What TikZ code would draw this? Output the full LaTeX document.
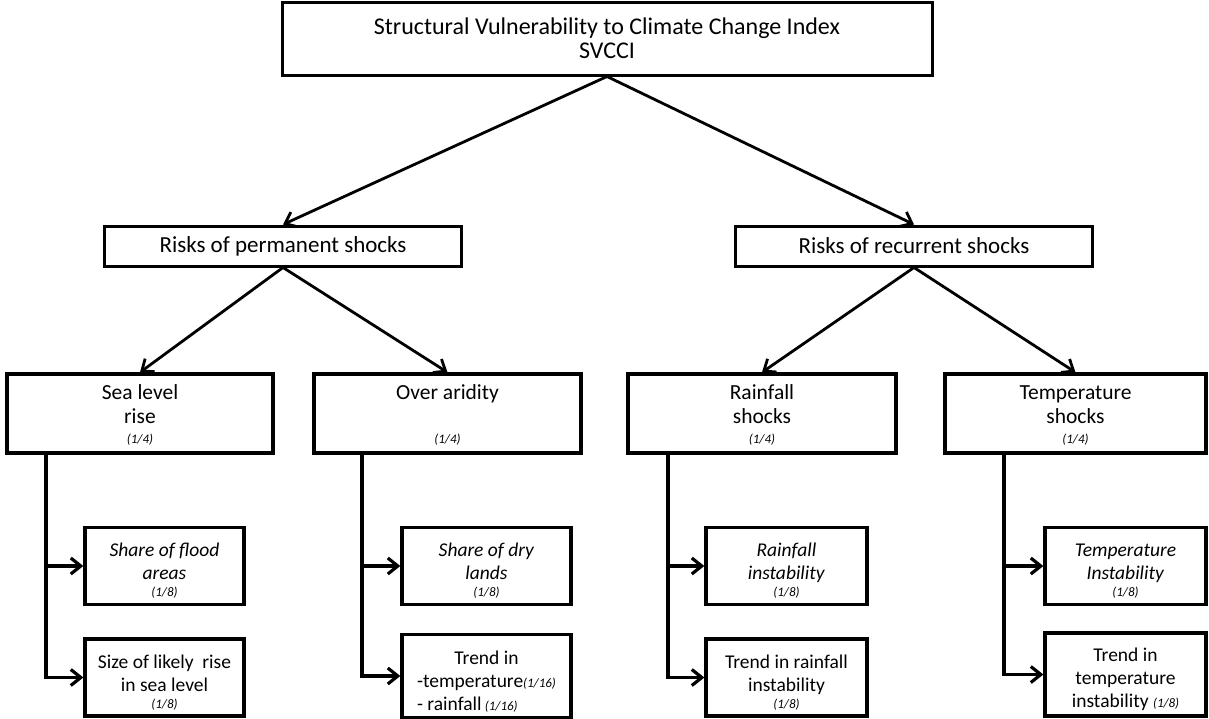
\documentclass[tikz,border=0pt]{standalone}
\usepackage{fontspec}
\setmainfont{Carlito}
\usetikzlibrary{arrows.meta}

\newcommand{\wgt}[1]{{\fontsize{13}{14}\selectfont\itshape(#1)}}
\newcommand{\topgap}[1]{\rule{0pt}{#1}}

\begin{document}
\begin{tikzpicture}[x=1pt,y=-1pt,
  every node/.style={align=center,inner sep=0pt},
  topbox/.style={draw,line width=3pt,minimum width=650pt,minimum height=73pt,font=\fontsize{24}{24}\selectfont},
  riskbox/.style={draw,line width=3pt,minimum width=357pt,minimum height=40pt,font=\fontsize{23}{24}\selectfont},
  shockbox/.style={draw,line width=3.3pt,minimum height=79pt,font=\fontsize{21.5}{24}\selectfont},
  leafbox/.style={draw,line width=3.3pt,minimum height=77pt,font=\fontsize{19.5}{23}\selectfont},
  linkarr/.style={line width=2.8pt,-{Straight Barb[length=10pt,width=16pt]}},
  brancharr/.style={line width=3.2pt,-{Straight Barb[length=10pt,width=16pt]}}]
  \useasboundingbox (0,0) rectangle (1209,718);

  \node[topbox] (svcci) at (607,38.5) {Structural Vulnerability to Climate Change Index\\SVCCI};

  \node[riskbox] (perm) at (283,246) {Risks of permanent shocks};
  \node[riskbox] (recur) at (914,246) {Risks of recurrent shocks};

  \node[shockbox,minimum width=266pt] (sea) at (140,413.5) {\topgap{17pt}Sea level\\rise\\[-4pt]\wgt{1/4}};
  \node[shockbox,minimum width=267pt] (arid) at (447.5,413.5) {\topgap{17pt}Over aridity\\\strut\\[-4pt]\wgt{1/4}};
  \node[shockbox,minimum width=268pt] (rain) at (762,413.5) {\topgap{17pt}Rainfall\\shocks\\[-4pt]\wgt{1/4}};
  \node[shockbox,minimum width=261pt] (temp) at (1075.5,413.5) {\topgap{17pt}Temperature\\shocks\\[-4pt]\wgt{1/4}};

  \node[leafbox,minimum width=159pt] (flood) at (164.5,566) {\topgap{23pt}\textit{Share of flood}\\\textit{areas}\\[-6pt]\wgt{1/8}};
  \node[leafbox,minimum width=159pt] (sealevel) at (164.5,677.5) {\topgap{23pt}Size of likely\ \ rise\\in sea level\\[-6pt]\wgt{1/8}};
  \node[leafbox,minimum width=169pt] (dry) at (486.5,566) {\topgap{23pt}\textit{Share of dry}\\\textit{lands}\\[-6pt]\wgt{1/8}};
  \node[leafbox,minimum width=169pt,minimum height=80pt] (aridtrend) at (486.5,676)
    {\begin{tabular}{@{}l@{}}\multicolumn{1}{@{}c@{}}{\topgap{30pt}Trend in}\\-temperature\wgt{1/16}\\- rainfall\,\wgt{1/16}\end{tabular}};
  \node[leafbox,minimum width=161pt] (rainvar) at (786.5,566) {\topgap{23pt}\textit{Rainfall}\\\textit{instability}\\[-6pt]\wgt{1/8}};
  \node[leafbox,minimum width=161pt] (raintrend) at (786.5,677.5) {\topgap{23pt}Trend in rainfall\\instability\\[-6pt]\wgt{1/8}};
  \node[leafbox,minimum width=161pt] (tempvar) at (1125.5,566) {\topgap{23pt}\textit{Temperature}\\\textit{Instability}\\[-6pt]\wgt{1/8}};
  \node[leafbox,minimum width=161pt,minimum height=83pt] (temptrend) at (1125.5,674.5) {\topgap{24pt}Trend in\\temperature\\instability\ \wgt{1/8}};

  \coordinate (seacol) at (46,0);
  \coordinate (aridcol) at (362,0);
  \coordinate (raincol) at (668,0);
  \coordinate (tempcol) at (1004,0);

  \draw[linkarr] (svcci.south) -- (perm.north);
  \draw[linkarr] (svcci.south) -- (recur.north);
  \draw[linkarr] (perm.south) -- (sea.north);
  \draw[linkarr] (perm.south) -- (arid.north);
  \draw[linkarr] (recur.south) -- (rain.north);
  \draw[linkarr] (recur.south) -- (temp.north);

  \draw[brancharr] (sea.south -| seacol) |- (sealevel.west);
  \draw[brancharr] (flood.west -| seacol) -- (flood.west);
  \draw[brancharr] (arid.south -| aridcol) |- (aridtrend.west);
  \draw[brancharr] (dry.west -| aridcol) -- (dry.west);
  \draw[brancharr] (rain.south -| raincol) |- (raintrend.west);
  \draw[brancharr] (rainvar.west -| raincol) -- (rainvar.west);
  \draw[brancharr] (temp.south -| tempcol) |- (temptrend.west);
  \draw[brancharr] (tempvar.west -| tempcol) -- (tempvar.west);
\end{tikzpicture}
\end{document}
